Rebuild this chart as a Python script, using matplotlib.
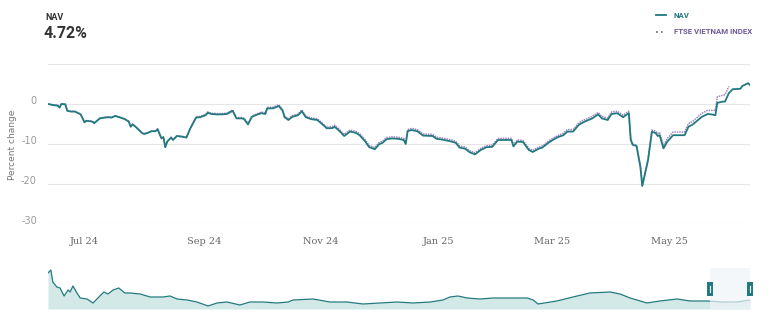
import matplotlib
matplotlib.use("Agg")
import matplotlib.pyplot as plt
import matplotlib.dates as mdates
import matplotlib.patches as patches
from matplotlib.lines import Line2D
from matplotlib.transforms import ScaledTranslation
import pandas as pd

# Daily percent change, NAV vs FTSE Vietnam Index (last 12 months)
dates = [
    "2024-06-12", "2024-06-15", "2024-06-17", "2024-06-18", "2024-06-19", "2024-06-21", "2024-06-22", "2024-06-24", "2024-06-26", "2024-06-29",
    "2024-07-01", "2024-07-02", "2024-07-05", "2024-07-06", "2024-07-09", "2024-07-13", "2024-07-15", "2024-07-17", "2024-07-19", "2024-07-22",
    "2024-07-24", "2024-07-25", "2024-07-26", "2024-07-28", "2024-07-31", "2024-08-01", "2024-08-03", "2024-08-05", "2024-08-07", "2024-08-08",
    "2024-08-09", "2024-08-10", "2024-08-11", "2024-08-12", "2024-08-13", "2024-08-15", "2024-08-16", "2024-08-18", "2024-08-21", "2024-08-22",
    "2024-08-23", "2024-08-25", "2024-08-26", "2024-08-28", "2024-08-30", "2024-09-02", "2024-09-03", "2024-09-05", "2024-09-08", "2024-09-10",
    "2024-09-13", "2024-09-16", "2024-09-18", "2024-09-21", "2024-09-22", "2024-09-24", "2024-09-26", "2024-09-29", "2024-10-01", "2024-10-03",
    "2024-10-04", "2024-10-07", "2024-10-10", "2024-10-12", "2024-10-13", "2024-10-15", "2024-10-17", "2024-10-20", "2024-10-22", "2024-10-24",
    "2024-10-27", "2024-10-30", "2024-11-01", "2024-11-04", "2024-11-07", "2024-11-08", "2024-11-10", "2024-11-13", "2024-11-16", "2024-11-19",
    "2024-11-21", "2024-11-24", "2024-11-26", "2024-11-29", "2024-12-01", "2024-12-03", "2024-12-05", "2024-12-08", "2024-12-11", "2024-12-14",
    "2024-12-15", "2024-12-16", "2024-12-18", "2024-12-21", "2024-12-24", "2024-12-29", "2024-12-31", "2025-01-03", "2025-01-07", "2025-01-10",
    "2025-01-12", "2025-01-15", "2025-01-17", "2025-01-20", "2025-01-23", "2025-01-26", "2025-01-29", "2025-02-01", "2025-02-05", "2025-02-08",
    "2025-02-09", "2025-02-11", "2025-02-14", "2025-02-15", "2025-02-17", "2025-02-19", "2025-02-22", "2025-02-24", "2025-02-28", "2025-03-04",
    "2025-03-07", "2025-03-09", "2025-03-12", "2025-03-15", "2025-03-18", "2025-03-22", "2025-03-25", "2025-03-27", "2025-03-30", "2025-04-01",
    "2025-04-04", "2025-04-07", "2025-04-10", "2025-04-11", "2025-04-12", "2025-04-14", "2025-04-16", "2025-04-17", "2025-04-20", "2025-04-22",
    "2025-04-24", "2025-04-25", "2025-04-26", "2025-04-28", "2025-04-30", "2025-05-03", "2025-05-06", "2025-05-09", "2025-05-11", "2025-05-13",
    "2025-05-16", "2025-05-18", "2025-05-21", "2025-05-23", "2025-05-25", "2025-05-26", "2025-05-29", "2025-05-30", "2025-06-01", "2025-06-03",
    "2025-06-07", "2025-06-08", "2025-06-11", "2025-06-12",
]

nav_pct = [
    0.0, -0.3, -0.4, -0.9, 0.0, -0.1, -1.7, -1.9, -1.9, -2.6,
    -4.6, -4.2, -4.4, -4.8, -3.6, -3.3, -3.4, -3.0, -3.3, -3.8,
    -4.4, -5.7, -5.1, -5.9, -7.3, -7.5, -7.2, -6.8, -6.8, -6.3,
    -7.5, -8.6, -8.3, -10.8, -9.4, -8.4, -9.0, -8.0, -8.2, -8.3,
    -8.4, -6.1, -5.2, -3.4, -3.3, -2.8, -2.2, -2.5, -2.6, -2.6,
    -2.5, -1.7, -3.6, -3.6, -3.8, -5.1, -3.2, -2.6, -2.3, -2.5,
    -1.1, -1.1, -0.5, -1.7, -3.3, -4.0, -3.2, -2.8, -1.8, -3.3,
    -3.8, -4.0, -4.8, -6.1, -6.0, -5.7, -6.5, -8.0, -6.9, -7.2,
    -7.8, -9.4, -10.8, -11.3, -10.1, -9.7, -8.8, -8.6, -8.7, -9.0,
    -10.0, -6.8, -6.5, -6.8, -7.9, -8.0, -8.7, -8.9, -9.3, -9.7,
    -10.9, -11.2, -12.0, -12.6, -11.5, -10.8, -10.7, -9.0, -9.0, -9.0,
    -10.6, -9.4, -9.5, -10.2, -11.5, -12.0, -11.2, -10.9, -9.4, -8.3,
    -7.8, -6.9, -6.9, -5.2, -4.4, -3.6, -2.6, -3.6, -4.0, -2.5,
    -2.3, -3.3, -2.3, -9.0, -10.2, -10.5, -15.7, -20.5, -14.0, -6.9,
    -7.3, -8.0, -7.8, -11.1, -9.4, -7.8, -7.8, -7.8, -5.7, -5.2,
    -4.0, -3.2, -2.5, -2.6, -2.8, 0.3, 0.6, 0.6, 2.7, 3.7,
    3.8, 4.5, 5.2, 4.72,
]

index_pct = [
    0.0, -0.2, -0.3, -0.8, 0.1, 0.0, -1.6, -1.8, -1.8, -2.5,
    -4.5, -4.1, -4.3, -4.7, -3.5, -3.2, -3.3, -2.9, -3.2, -3.7,
    -4.3, -5.6, -5.0, -5.8, -7.2, -7.4, -7.1, -6.7, -6.7, -6.2,
    -7.4, -8.5, -8.2, -10.7, -9.3, -8.3, -8.9, -7.9, -8.1, -8.2,
    -8.3, -6.0, -5.1, -3.2, -3.1, -2.6, -2.0, -2.3, -2.4, -2.4,
    -2.3, -1.5, -3.4, -3.4, -3.6, -4.9, -3.0, -2.4, -2.0, -2.2,
    -0.8, -0.8, -0.2, -1.4, -3.0, -3.7, -2.9, -2.5, -1.5, -3.0,
    -3.5, -3.7, -4.5, -5.8, -5.6, -5.3, -6.1, -7.6, -6.5, -6.8,
    -7.4, -9.0, -10.4, -10.9, -9.7, -9.3, -8.4, -8.2, -8.3, -8.6,
    -9.8, -6.4, -6.1, -6.4, -7.5, -7.6, -8.3, -8.5, -8.9, -9.3,
    -10.5, -10.8, -11.6, -12.2, -11.1, -10.4, -10.3, -8.6, -8.6, -8.6,
    -10.2, -9.0, -9.1, -9.8, -11.1, -11.6, -10.8, -10.5, -9.0, -7.9,
    -7.3, -6.4, -6.4, -4.7, -3.9, -3.1, -2.1, -3.1, -3.5, -2.0,
    -1.8, -2.8, -1.8, -8.8, -10.0, -10.3, -15.5, -20.3, -13.7, -6.5,
    -6.8, -7.4, -7.1, -10.4, -8.6, -7.0, -7.0, -7.0, -4.9, -4.4,
    -3.2, -2.3, -1.6, -1.6, -1.6, 1.8, 2.2, 2.3, 4.4,
]

# full fund history for the navigator strip (decimal year, NAV level)
history_year = [
    2008.00, 2008.07, 2008.12, 2008.22, 2008.30, 2008.40, 2008.50, 2008.55, 2008.62, 2008.72,
    2008.80, 2008.97, 2009.12, 2009.24, 2009.39, 2009.49, 2009.62, 2009.76, 2009.91, 2010.04,
    2010.29, 2010.54, 2010.86, 2011.03, 2011.21, 2011.46, 2011.70, 2011.98, 2012.20, 2012.45,
    2012.77, 2013.02, 2013.34, 2013.69, 2013.97, 2014.09, 2014.59, 2015.01, 2015.43, 2015.83,
    2016.25, 2016.68, 2017.07, 2017.50, 2017.82, 2017.99, 2018.19, 2018.42, 2018.74, 2019.06,
    2019.56, 2019.91, 2020.06, 2020.18, 2020.65, 2021.05, 2021.47, 2021.97, 2022.22, 2022.47,
    2022.89, 2023.21, 2023.64, 2023.96, 2024.38, 2024.78, 2025.13, 2025.45,
]
history_level = [
    36, 39, 27, 22, 21, 13, 19, 17, 23, 16,
    11, 10, 6, 11, 17, 15, 19, 21, 16, 16,
    15, 12, 12, 13, 10, 9, 7, 3, 6, 7,
    4, 7, 7, 6, 7, 9, 10, 7, 7, 5,
    6, 7, 6, 7, 9, 12, 13, 11, 10, 11,
    11, 11, 9, 5, 8, 12, 16, 17, 15, 11,
    6, 8, 10, 8, 8, 7, 7, 9,
]

teal = "#22797f"
purple = "#9c88c0"
grid_col = "#e6e6e6"

x = pd.to_datetime(dates)

fig = plt.figure(figsize=(7.73, 3.32), dpi=100)
fig.patch.set_facecolor("white")

# main chart
ax = fig.add_axes([48 / 773, 108 / 332, 702 / 773, 160 / 332])
ax.plot(x[:len(index_pct)], index_pct, color=purple, lw=1.1, ls=(0, (1, 0.6)), zorder=3)
ax.plot(x, nav_pct, color=teal, lw=1.3, zorder=4)

ax.set_xlim(pd.Timestamp("2024-06-12"), pd.Timestamp("2025-06-12"))
ax.set_ylim(-30, 10)
ax.set_yticks([-30, -20, -10, 0, 10])
ax.set_yticklabels(["-30", "-20", "-10", "0", ""])
ax.grid(axis="y", color=grid_col, lw=0.8)
ax.set_axisbelow(True)
for s in ax.spines.values():
    s.set_visible(False)

ax.xaxis.set_major_locator(mdates.MonthLocator(bymonth=[1, 3, 5, 7, 9, 11]))
ax.xaxis.set_major_formatter(mdates.DateFormatter("%b %y"))
ax.tick_params(axis="x", length=0, pad=9, labelsize=7, labelcolor="#666666")
for lbl in ax.get_xticklabels():
    lbl.set_family("DejaVu Serif")
ax.tick_params(axis="y", length=0, pad=8, labelsize=7, labelcolor="#999999")

# lift y labels above their gridline
lift = ScaledTranslation(0, 4 / 100, fig.dpi_scale_trans)
for lbl in ax.get_yticklabels():
    lbl.set_transform(lbl.get_transform() + lift)

fig.text(13 / 773, 1 - 145 / 332, "Percent change", rotation=90, ha="center", va="center",
         fontsize=6.5, color="#777777")

# header
fig.text(45 / 773, 1 - 17 / 332, "NAV", fontsize=6.5, fontweight="bold", color="#333333",
         va="center", family="Roboto")
fig.text(44 / 773, 1 - 33 / 332, "4.72%", fontsize=11.5, fontweight="bold", color="#333333",
         va="center", family="Roboto")

# legend
fig.add_artist(Line2D([656 / 773, 666 / 773], [1 - 15 / 332, 1 - 15 / 332], color=teal, lw=1.3))
fig.add_artist(Line2D([656 / 773, 666 / 773], [1 - 32 / 332, 1 - 32 / 332], color="#6b5a9b", lw=1.2,
                      ls=(0, (1, 2))))
fig.text(674 / 773, 1 - 15 / 332, "NAV", fontsize=5.7, fontweight="bold", color=teal, va="center",
         family="Roboto")
fig.text(674 / 773, 1 - 32 / 332, "FTSE VIETNAM INDEX", fontsize=5.6, fontweight="bold",
         color="#6b5a9b", va="center", family="Roboto")

# navigator
nav_ax = fig.add_axes([48 / 773, 23 / 332, 702 / 773, 41 / 332])
nav_ax.fill_between(history_year, history_level, 0, color="#d3e9e8", lw=0)
nav_ax.plot(history_year, history_level, color=teal, lw=0.9)
nav_ax.set_xlim(2008.0, 2025.45)
nav_ax.set_ylim(0, 41)
nav_ax.axis("off")

sel_start, sel_end = 2024.45, 2025.45
nav_ax.add_patch(patches.Rectangle((sel_start, 0), sel_end - sel_start, 41,
                                   facecolor="#eef4f7", alpha=0.7, lw=0, zorder=5))
hw = 0.16
for hx in (sel_start, sel_end):
    nav_ax.add_patch(patches.Rectangle((hx - hw / 2, 13), hw, 14, facecolor=teal, lw=0,
                                       zorder=6, clip_on=False))
    nav_ax.plot([hx, hx], [17, 23], color="white", lw=0.8, zorder=7, clip_on=False)

fig.savefig("out.png", dpi=100, facecolor="white")
